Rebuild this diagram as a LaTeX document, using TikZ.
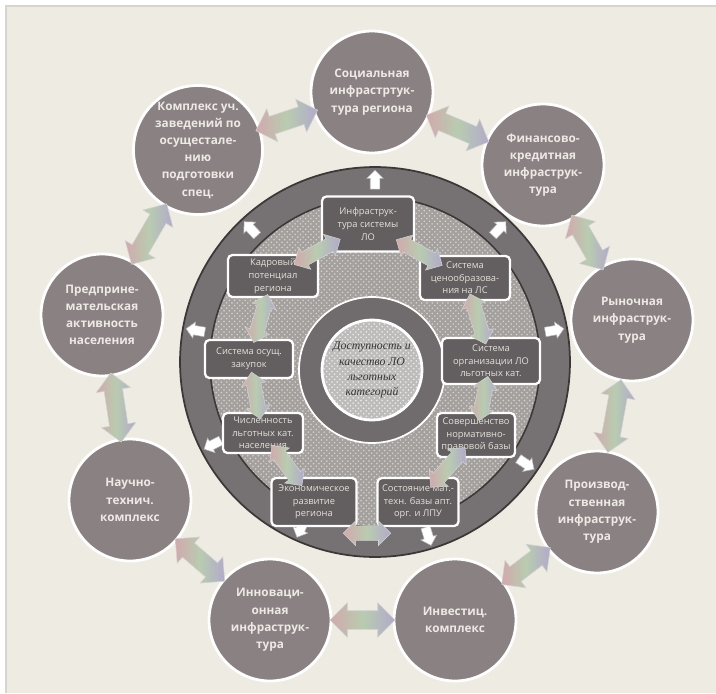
\documentclass[tikz,border=0pt]{standalone}
\usepackage{fontspec}
\setmainfont{Open Sans}
\newfontfamily\cserif{Liberation Serif}
\usetikzlibrary{shapes.arrows,patterns,calc}
\definecolor{paper}{HTML}{EEEBE3}
\definecolor{circfill}{HTML}{8A8183}
\definecolor{circtext}{HTML}{EDE9E4}
\definecolor{ringfill}{HTML}{767172}
\definecolor{ringline}{HTML}{3C3838}
\definecolor{hatchbase}{HTML}{A3A09E}
\definecolor{hatchdot}{HTML}{D6D3CF}
\definecolor{boxfill}{HTML}{635E5F}
\definecolor{arrA}{HTML}{D2A9AD}
\definecolor{arrB}{HTML}{B8CCB0}
\definecolor{arrC}{HTML}{B2AACB}
\definecolor{centertext}{HTML}{3A3434}
\tikzset{
  outercirc/.style={circle, minimum size=2.44cm, inner sep=0pt, fill=circfill,
    draw=white!95!paper, line width=1.6pt, text=circtext, align=center,
    font=\fontsize{6.7}{9.8}\selectfont\bfseries},
  innerbox/.style={rectangle, rounded corners=2.5pt, fill=boxfill, draw=white!92!paper,
    line width=1.3pt, text=circtext!92!gray, align=center, inner sep=1pt,
    font=\fontsize{5.3}{7.2}\selectfont},
  bigarrow/.style={shape=double arrow, sloped, inner xsep=0pt, inner ysep=0.18cm,
    minimum width=0pt, double arrow head extend=0.16cm,
    minimum height=#1, left color=arrA, right color=arrC, middle color=arrB,
    draw=white!65!gray, line width=0.3pt},
  smallarrow/.style={shape=double arrow, sloped, inner xsep=0pt, inner ysep=0.14cm,
    minimum width=0pt, double arrow head extend=0.1cm,
    minimum height=#1, left color=arrA, right color=arrC, middle color=arrB,
    draw=white!65!gray, line width=0.3pt},
  whitearrow/.style={shape=single arrow, inner xsep=0pt, inner ysep=0.09cm, minimum width=0pt,
    single arrow head extend=0.07cm, minimum height=0.38cm, fill=white,
    draw=gray!60, line width=0.3pt, rotate=#1}
}
\begin{document}
\begin{tikzpicture}[x=0.02cm,y=-0.02cm]
\useasboundingbox (0,0) rectangle (716,693);
\fill[white] (0,0) rectangle (716,693);
\fill[paper] (6,6) rectangle (716,693);
\draw[paper!80!gray, line width=0.6pt] (6,693) -- (6,6) -- (716,6);

% big ring
\coordinate (rc) at (375,362);
\fill[ringfill] (rc) circle (3.9cm);
\draw[ringline, line width=1pt] (rc) circle (3.9cm);
\fill[hatchbase] (rc) circle (3.3cm);
\fill[pattern=crosshatch dots, pattern color=hatchdot] (rc) circle (3.3cm);
\draw[ringline, line width=0.9pt] (rc) circle (3.3cm);

% ring white arrows
\foreach \a/\nm in {90/wa1,133/wa2,47/wa3,170/wa4,10/wa5,207/wa6,-34/wa7,246/wa8,287/wa9}{
  \node[whitearrow=\a] (\nm) at ($(rc)+(\a:3.6cm)$) {};
}

% center donut
\coordinate (cc) at (372,370);
\fill[ringfill!95!black] (cc) circle (1.46cm);
\draw[white!90!paper, line width=1pt] (cc) circle (1.46cm);
\fill[hatchbase!70!white] (cc) circle (1.0cm);
\fill[pattern=crosshatch dots, pattern color=white!85!gray] (cc) circle (1.0cm);
\draw[white!95!paper, line width=1.6pt] (cc) circle (1.0cm);
\node[align=center, text=centertext, font=\cserif\itshape\fontsize{6.7}{8.6}\selectfont] (center) at (cc)
  {Доступность и\\качество ЛО\\льготных\\категорий};

% inner boxes
\node[innerbox, minimum width=1.84cm, minimum height=1.1cm] (b1) at (368,224) {Инфраструк-\\тура системы\\ЛО};
\node[innerbox, minimum width=1.8cm, minimum height=0.84cm] (b2) at (273,276) {Кадровый\\потенциал\\региона};
\node[innerbox, minimum width=1.8cm, minimum height=0.88cm] (b3) at (465,278) {Система\\ценообразова-\\ния на ЛС};
\node[innerbox, minimum width=1.96cm, minimum height=0.92cm] (b4) at (491,361) {Система\\организации ЛО\\льготных кат.};
\node[innerbox, minimum width=1.76cm, minimum height=0.76cm] (b5) at (249,359) {Система осущ.\\закупок};
\node[innerbox, minimum width=1.6cm, minimum height=0.8cm] (b6) at (263,433) {Численность\\льготных кат.\\населения};
\node[innerbox, minimum width=1.56cm, minimum height=0.88cm] (b7) at (476,435) {Совершенство\\нормативно-\\правовой базы};
\node[innerbox, minimum width=1.7cm, minimum height=0.96cm] (b8) at (314,502) {Экономическое\\развитие\\региона};
\node[innerbox, minimum width=1.62cm, minimum height=0.96cm] (b9) at (418,502) {Состояние мат.-\\техн. базы апт.\\орг. и ЛПУ};

% inner arrows
\path (b1) -- node[smallarrow=1.05cm] {} (b2);
\path (b1) -- node[smallarrow=1.05cm] {} (b3);
\path (b3) -- node[smallarrow=1.05cm] {} (b4);
\path (b4) -- node[smallarrow=0.9cm] {} (b7);
\path (b7) -- node[smallarrow=1.05cm] {} (b9);
\path ([yshift=-0.12cm]b8.south east) -- node[smallarrow=0.95cm] {} ([yshift=-0.12cm]b9.south west);
\path (b8) -- node[smallarrow=1.0cm] {} (b6);
\path (b6) -- node[smallarrow=0.95cm] {} (b5);
\path (b5) -- node[smallarrow=1.0cm] {} (b2);

% outer circles
\node[outercirc] (c1) at (372,92) {Социальная\\инфрастртук-\\тура региона};
\node[outercirc] (c2) at (543,165) {Финансово-\\кредитная\\инфраструк-\\тура};
\node[outercirc] (c3) at (632,320) {Рыночная\\инфраструк-\\тура};
\node[outercirc] (c4) at (597,512) {Производ-\\ственная\\инфраструк-\\тура};
\node[outercirc] (c5) at (455,620) {Инвестиц.\\комплекс};
\node[outercirc] (c6) at (270,620) {Инноваци-\\онная\\инфраструк-\\тура};
\node[outercirc] (c7) at (130,500) {Научно-\\технич.\\комплекс};
\node[outercirc] (c8) at (102,315) {Предприне-\\мательская\\активность\\населения};
\node[outercirc] (c9) at (198,150) {Комплекс уч.\\заведений по\\осущестале-\\нию\\подготовки\\спец.};

% outer arrows
\path (c9) -- node[bigarrow=1.3cm] {} (c1);
\path (c1) -- node[bigarrow=1.36cm] {} (c2);
\path (c2) -- node[bigarrow=1.26cm] {} (c3);
\path (c3) -- node[bigarrow=1.48cm] {} (c4);
\path (c4) -- node[bigarrow=1.22cm] {} (c5);
\path (c5) -- node[bigarrow=1.3cm] {} (c6);
\path (c6) -- node[bigarrow=1.3cm] {} (c7);
\path (c7) -- node[bigarrow=1.4cm] {} (c8);
\path (c8) -- node[bigarrow=1.4cm] {} (c9);
\end{tikzpicture}
\end{document}
